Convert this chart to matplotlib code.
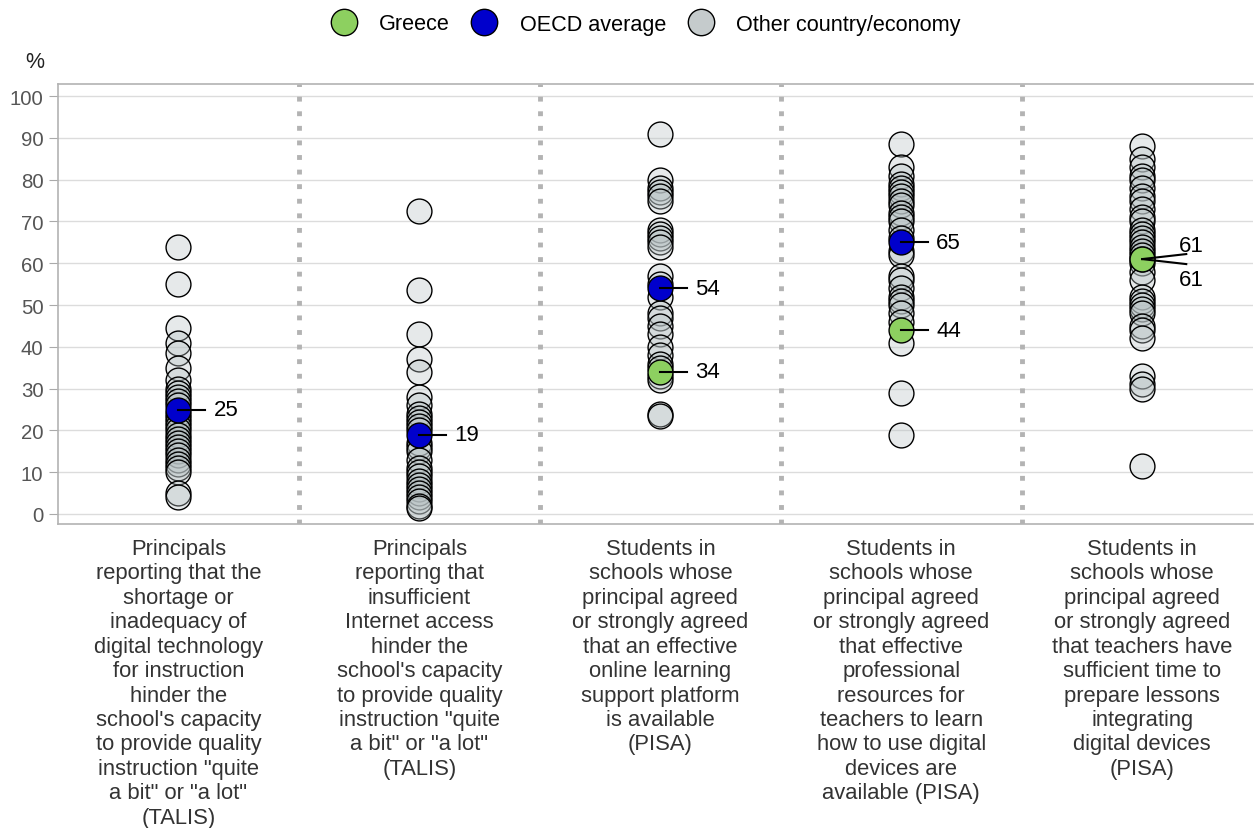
import matplotlib
matplotlib.use("Agg")
import matplotlib.pyplot as plt
from matplotlib.lines import Line2D

plt.rcParams['font.family'] = ['Liberation Sans', 'DejaVu Sans']

categories = [
    "Principals\nreporting that the\nshortage or\ninadequacy of\ndigital technology\nfor instruction\nhinder the\nschool's capacity\nto provide quality\ninstruction \"quite\na bit\" or \"a lot\"\n(TALIS)",
    "Principals\nreporting that\ninsufficient\nInternet access\nhinder the\nschool's capacity\nto provide quality\ninstruction \"quite\na bit\" or \"a lot\"\n(TALIS)",
    "Students in\nschools whose\nprincipal agreed\nor strongly agreed\nthat an effective\nonline learning\nsupport platform\nis available\n(PISA)",
    "Students in\nschools whose\nprincipal agreed\nor strongly agreed\nthat effective\nprofessional\nresources for\nteachers to learn\nhow to use digital\ndevices are\navailable (PISA)",
    "Students in\nschools whose\nprincipal agreed\nor strongly agreed\nthat teachers have\nsufficient time to\nprepare lessons\nintegrating\ndigital devices\n(PISA)",
]

others = [
    [64, 55, 44.5, 41, 38.5, 35, 32, 30, 29, 28, 27, 26, 24, 23, 22, 21, 20, 19, 18, 17, 16, 15, 14, 13, 12, 11, 10, 5, 4],
    [72.5, 53.5, 43, 37, 34, 28, 26, 24, 23, 22, 21, 20, 17, 16, 15, 13, 11, 10, 9, 8, 7, 6, 5, 4, 3, 2, 1.5],
    [91, 80, 78, 77, 76, 75, 68, 67, 66, 65, 64, 57, 55, 52, 48, 47, 45, 43, 40, 38, 36, 35, 33, 32, 24, 23.5],
    [88.5, 83, 81, 79, 78, 77, 76, 75, 74, 72, 71, 70, 68, 66, 63, 62, 57, 56, 54, 52, 51, 50, 48, 46, 41, 29, 19],
    [88, 85, 83, 81, 80, 78, 76, 75, 73, 71, 70, 68, 67, 66, 65, 64, 63, 62, 60, 58, 56, 52, 51, 50, 49, 48, 45, 44, 42, 33, 31, 30, 11.5],
]
greece = [None, None, 34, 44, 61]
oecd = [25, 19, 54, 65, 61]

fig = plt.figure(figsize=(12.55, 8.29), dpi=100)
ax = fig.add_axes([58/1255, 1-525/829, (1253-58)/1255, (525-85)/829])
ax.set_xlim(-0.5, 4.46)
ax.set_ylim(-2.4, 102.9)

S = 320
for i, vals in enumerate(others):
    ax.scatter([i]*len(vals), vals, s=S, facecolor=(0.72, 0.76, 0.77, 0.35),
               edgecolor='black', linewidth=1.0, zorder=3)
for i, v in enumerate(oecd):
    ax.scatter([i], [v], s=S, facecolor='#0000cc', edgecolor='black', linewidth=1.0, zorder=4)
for i, v in enumerate(greece):
    if v is not None:
        ax.scatter([i], [v], s=S, facecolor='#8dd060', edgecolor='black', linewidth=1.0, zorder=5)

# value labels
for i in range(5):
    g = greece[i]
    o = oecd[i]
    if g is not None and abs(g - o) < 3:
        ax.plot([i, i + 0.183], [o, o + 1.2], color='black', lw=1.5, zorder=6)
        ax.plot([i, i + 0.183], [g, g - 1.2], color='black', lw=1.5, zorder=6)
        ax.text(i + 0.153, o + 3.3, f"{o:.0f}", fontsize=16, va='center', ha='left')
        ax.text(i + 0.153, g - 4.9, f"{g:.0f}", fontsize=16, va='center', ha='left')
    else:
        for v in [o, g]:
            if v is None:
                continue
            ax.plot([i, i + 0.112], [v, v], color='black', lw=1.5, zorder=6)
            ax.text(i + 0.145, v, f"{v:.0f}", fontsize=16, va='center', ha='left')

# dividers
for xd in [0.5, 1.5, 2.5, 3.5]:
    ax.axvline(xd, color='#b3b3b3', lw=3.5, ls=(0, (1, 2)), zorder=1)

ax.set_yticks(range(0, 101, 10))
ax.yaxis.grid(True, color='#dcdcdc', lw=1.0, zorder=0)
ax.set_axisbelow(True)
ax.tick_params(axis='y', labelsize=14.7, labelcolor='#555555', color='#aaaaaa', length=6.5, pad=4)
ax.set_xticks(range(5))
ax.set_xticklabels(categories, fontsize=15.8, color='#333333', linespacing=1.215, va='top')
ax.tick_params(axis='x', length=0, pad=10)
for sp in ax.spines.values():
    sp.set_color('#b3b3b3')
    sp.set_linewidth(1.2)
ax.spines['right'].set_visible(False)

fig.text(35/1255, 1-63/829, '%', fontsize=15.5, ha='center', va='center', color='#222222')

handles = [
    Line2D([], [], marker='o', ls='', markersize=19, markerfacecolor='#8dd060', markeredgecolor='black', label='Greece'),
    Line2D([], [], marker='o', ls='', markersize=19, markerfacecolor='#0000cc', markeredgecolor='black', label='OECD average'),
    Line2D([], [], marker='o', ls='', markersize=19, markerfacecolor='#c5cbcc', markeredgecolor='black', label='Other country/economy'),
]
fig.legend(handles=handles, loc='center', bbox_to_anchor=(0.5 + 17/1255, 1-25/829), ncol=3, frameon=False,
           fontsize=15.6, handlelength=1.4, handletextpad=0.93, columnspacing=0.9)

fig.savefig('out.png', dpi=100)
